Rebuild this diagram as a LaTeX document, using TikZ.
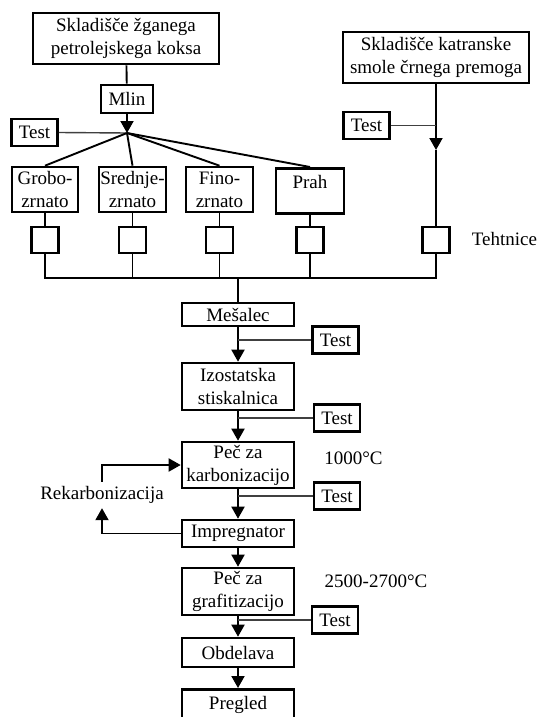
\documentclass[tikz,border=0pt]{standalone}
\usepackage{fontspec}
\setmainfont{Liberation Serif}
\usetikzlibrary{arrows.meta,calc}

\begin{document}
\begin{tikzpicture}[x=1pt,y=-1pt,
  every node/.style={font=\fontsize{19}{23}\selectfont},
  box/.style={draw, line width=2.6pt, inner sep=0pt, align=center, rectangle},
  stagebox/.style={box, minimum width=112pt},
  testbox/.style={box, minimum width=46pt, minimum height=27pt},
  scalebox/.style={box, minimum width=27pt, minimum height=26pt},
  grainbox/.style={box, minimum width=67pt, minimum height=45pt},
  flow/.style={line width=1.9pt},
  arr/.style={flow, -{Triangle[length=12pt,width=13pt]}},
  tap/.style={line width=1.4pt, black!75},
  lbl/.style={inner sep=0pt},
]
\path[fill=white, use as bounding box] (0,0) rectangle (539,717);
\clip (0,0) rectangle (539,717);

% raw material stores
\node[box, minimum width=186pt, minimum height=51pt] (sk1) at (126,38.5) {Skladišče žganega\\petrolejskega koksa};
\node[box, minimum width=186pt, minimum height=51pt] (sk2) at (436,57.5) {Skladišče katranske\\smole črnega premoga};

% mill and test
\node[box, minimum width=52pt, minimum height=28pt] (mlin) at (127,99) {Mlin};
\coordinate (J) at (127,133);
\node[testbox] (testA) at (34.5,132.5) {Test};
\node[testbox] (testB) at (366.5,125.5) {Test};
\coordinate (B) at (436,150);

% grain fractions
\node[grainbox, minimum width=66pt] (grobo) at (45,189.5) {Grobo-\\zrnato};
\node[grainbox] (sred) at (132.5,189.5) {Srednje-\\zrnato};
\node[grainbox] (fino) at (219.5,189.5) {Fino-\\zrnato};
\node[box, minimum width=68pt, text height=20pt, text depth=25pt, anchor=north] (prah) at (310,167) {Prah};

% weighing scales
\node[scalebox] (w1) at (45,240) {};
\node[scalebox] (w2) at (132.5,240) {};
\node[scalebox] (w3) at (219.5,240) {};
\node[scalebox] (w4) at (310,240) {};
\node[scalebox] (w5) at (436,240) {};
\node[lbl] (teht) at (504.5,239) {Tehtnice};
\coordinate (bus) at (238,278);

% main process line
\node[stagebox, minimum height=23pt] (mes) at (238,314.5) {Mešalec};
\node[testbox] (t1) at (335.5,340) {Test};
\node[stagebox, minimum height=47pt] (izo) at (238,386.5) {Izostatska\\stiskalnica};
\node[testbox] (t2) at (337,418) {Test};
\node[stagebox, minimum height=46pt] (karb) at (238,465) {Peč za\\karbonizacijo};
\node[lbl] (t1000) at (353.5,458) {1000°C};
\node[testbox] (t3) at (337,496) {Test};
\node[stagebox, minimum height=27pt] (impr) at (238,533.5) {Impregnator};
\node[lbl, minimum height=26pt] (rek) at (102,495) {Rekarbonizacija};
\node[stagebox, minimum height=47pt] (graf) at (238,591.5) {Peč za\\grafitizacijo};
\node[lbl] (t2500) at (376,581) {2500-2700°C};
\node[testbox] (t4) at (335,620) {Test};
\node[stagebox, minimum height=29pt] (obd) at (238,652.5) {Obdelava};
\node[stagebox, text height=20pt, text depth=40pt, anchor=north] (preg) at (238,688) {Pregled};

% connectors: milling and sorting
\draw[flow] (sk1) -- (mlin);
\draw[arr] (mlin) -- (J);
\draw[tap] (testA.east) -- (J);
\draw[flow] (J) -- (grobo.north);
\draw[flow] (J) -- (sred.north);
\draw[flow] (J) -- (fino.north);
\draw[flow] (J) -- (prah.north);

% pitch branch
\draw[arr] (sk2.south) -- (B);
\draw[flow] (B) -- (w5.north);
\draw[tap] (testB.east) -- (testB.east -| sk2.south);

% fractions to scales and collecting bus
\draw[flow] (grobo) -- (w1);
\draw[flow] (sred) -- (w2);
\draw[flow] (fino) -- (w3);
\draw[flow] (prah) -- (w4);
\draw[flow] (w1.south) |- (bus) -| (w5.south);
\draw[flow] (w2.south) -- (w2.south |- bus);
\draw[flow] (w3.south) -- (w3.south |- bus);
\draw[flow] (w4.south) -- (w4.south |- bus);
\draw[flow] (bus) -- (mes.north);

% process chain
\draw[arr] (mes) -- (izo);
\draw[tap] (t1.west) -- (t1.west -| mes.south);
\draw[arr] (izo) -- (karb);
\draw[tap] (t2.west) -- (t2.west -| izo.south);
\draw[arr] (karb) -- (impr);
\draw[tap] (t3.west) -- (t3.west -| karb.south);
\draw[arr] (impr) -- (graf);
\draw[arr] (graf) -- (obd);
\draw[tap] (t4.west) -- (t4.west -| graf.south);
\draw[arr] (obd) -- (preg);

% recarbonisation loop
\draw[arr] (impr.west) -| (rek.south);
\draw[arr] (rek.north) |- (karb.west);
\end{tikzpicture}
\end{document}
